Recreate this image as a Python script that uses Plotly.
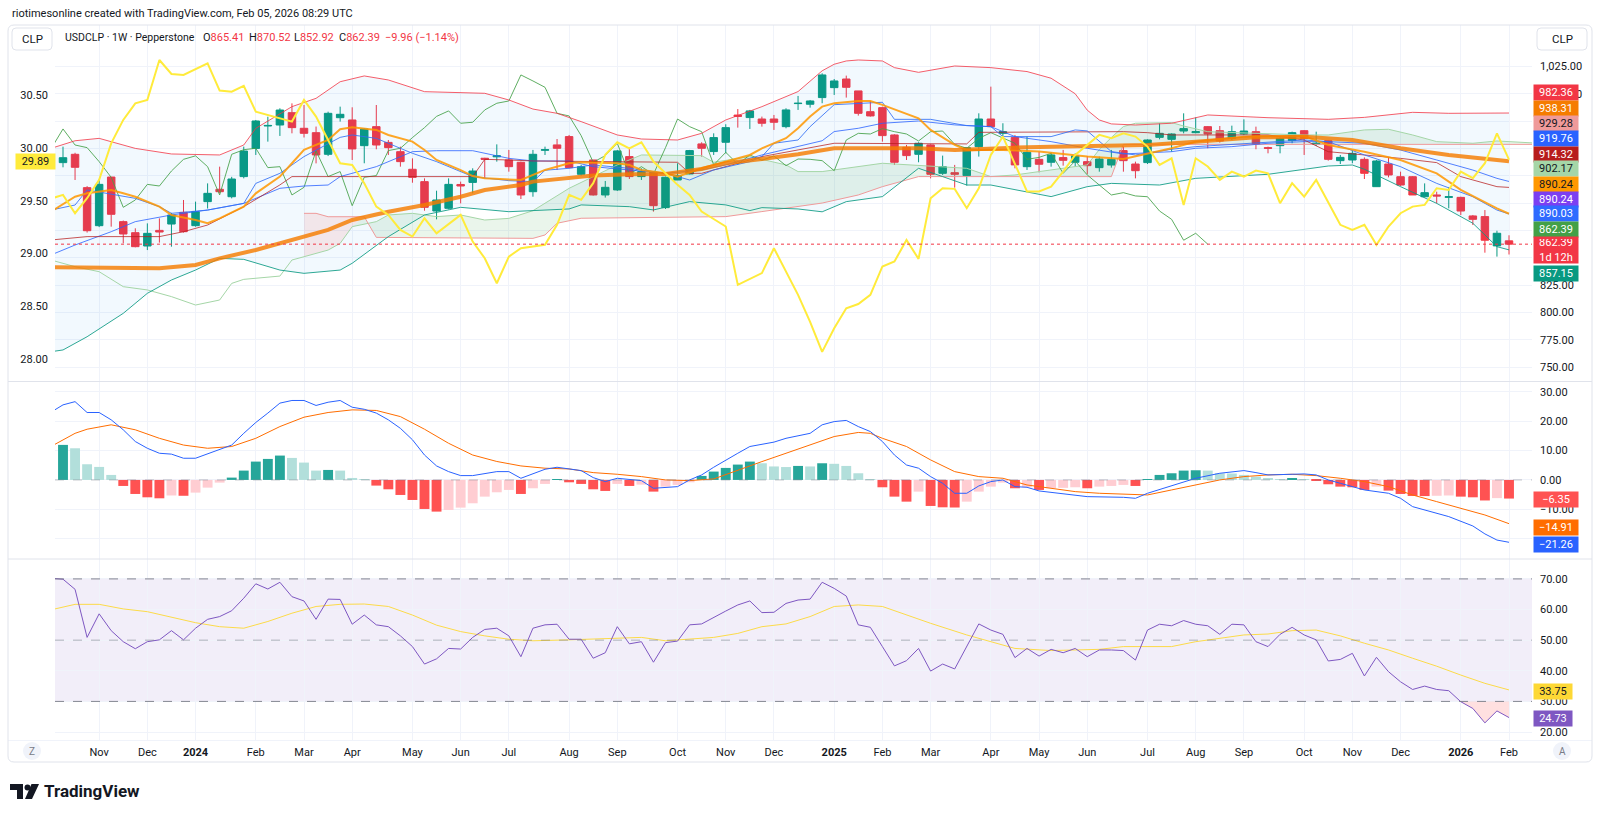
import numpy as np
import pandas as pd
import plotly.graph_objects as go

# ---------------- DATA (weekly bars, week 0 = 2023-10-16) ----------------
START = pd.Timestamp("2023-10-16")

OPEN = [937.0, 944.6, 914.1, 879.3, 923.8, 883.0, 872.9, 860.7, 875.0, 880.8,
        891.5, 879.3, 901.3, 912.6, 905.8, 924.2, 950.0, 970.5, 971.4, 982.7,
        968.4, 964.4, 944.6, 978.1, 976.0, 952.5, 969.9, 955.5, 947.0, 930.9,
        919.6, 892.7, 895.2, 917.0, 918.9, 941.0, 942.3, 939.4, 937.3, 910.4,
        948.3, 953.2, 960.8, 926.3, 939.4, 907.4, 912.0, 942.5, 924.2, 928.1,
        895.8, 921.1, 926.6, 954.1, 947.1, 955.6, 980.5, 978.2, 976.9, 976.9,
        969.9, 991.0, 990.4, 996.5, 1005.6, 1013.5, 1002.6, 983.6, 987.3, 962.3,
        951.0, 944.6, 953.2, 927.2, 927.8, 925.1, 951.6, 976.9, 963.8, 959.9,
        933.3, 940.0, 937.3, 941.6, 937.3, 937.9, 932.4, 934.8, 948.0, 935.7,
        937.0, 960.1, 958.3, 965.9, 964.4, 969.9, 966.2, 959.2, 963.2, 965.3,
        950.7, 952.5, 957.1, 966.2, 953.7, 957.1, 938.8, 939.4, 940.0, 915.0,
        935.7, 924.1, 924.1, 905.8, 907.4, 905.2, 905.2, 888.2, 887.6, 860.8,
        865.41]
HIGH = [951.6, 946.0, 915.5, 921.7, 924.0, 884.0, 876.9, 881.4, 886.0, 891.0,
        902.8, 901.3, 918.0, 933.3, 924.0, 951.6, 976.0, 979.0, 986.7, 991.2,
        989.7, 970.0, 983.6, 988.2, 987.6, 968.4, 989.7, 957.7, 951.6, 940.9,
        922.6, 911.3, 922.6, 919.6, 931.8, 941.4, 953.7, 948.6, 937.9, 948.6,
        951.6, 958.6, 962.3, 934.9, 939.4, 920.2, 948.6, 950.7, 931.8, 928.8,
        924.2, 936.4, 948.6, 955.6, 963.8, 972.1, 986.0, 985.2, 979.1, 980.6,
        986.7, 998.0, 994.3, 1018.7, 1013.5, 1016.6, 1002.6, 993.4, 988.2, 962.9,
        953.2, 955.6, 953.8, 943.4, 934.9, 950.7, 982.1, 1006.5, 973.0, 962.3,
        960.8, 947.0, 946.4, 948.6, 945.5, 943.1, 942.5, 948.6, 951.6, 937.9,
        958.3, 972.9, 963.8, 982.1, 978.4, 970.5, 970.5, 970.8, 976.6, 969.9,
        951.6, 960.1, 965.3, 966.8, 965.3, 957.7, 944.0, 948.0, 941.8, 939.4,
        941.8, 928.7, 924.7, 918.0, 910.4, 914.4, 905.8, 889.1, 893.6, 874.7,
        870.52]
LOW = [932.7, 921.1, 873.0, 878.0, 878.4, 863.2, 859.5, 857.0, 863.8, 860.1,
       873.0, 878.4, 895.0, 908.9, 904.3, 922.6, 944.0, 956.2, 961.4, 963.8,
       960.0, 936.3, 943.0, 974.5, 939.4, 936.4, 949.2, 944.0, 933.3, 918.6,
       893.0, 885.1, 894.3, 899.7, 908.9, 922.6, 937.9, 928.7, 903.7, 905.8,
       944.0, 930.3, 931.8, 925.1, 906.8, 905.0, 911.1, 922.0, 921.1, 892.2,
       894.6, 921.1, 926.3, 942.5, 944.0, 945.5, 969.0, 967.8, 969.9, 966.9,
       968.4, 985.2, 987.3, 991.3, 998.9, 996.5, 980.0, 979.1, 956.2, 934.9,
       939.4, 937.3, 922.6, 925.7, 914.1, 916.0, 942.5, 969.9, 960.8, 931.8,
       930.3, 928.1, 933.3, 934.2, 933.3, 926.6, 928.7, 932.4, 928.7, 922.6,
       935.7, 958.3, 947.0, 963.8, 963.8, 950.1, 955.3, 957.7, 962.3, 949.2,
       945.5, 945.5, 954.7, 944.0, 952.2, 938.8, 935.7, 936.4, 922.0, 915.0,
       923.5, 915.6, 907.4, 905.2, 899.7, 895.2, 889.0, 879.9, 854.6, 851.0,
       852.92]
CLOSE = [941.5, 932.7, 874.7, 917.1, 889.7, 871.7, 860.1, 872.3, 873.5, 889.1,
         873.8, 892.1, 908.9, 910.4, 922.0, 947.6, 975.1, 971.0, 985.1, 969.0,
         963.8, 944.0, 982.1, 981.2, 949.5, 967.8, 953.1, 950.7, 937.9, 923.5,
         896.1, 902.8, 917.1, 915.6, 929.3, 940.0, 943.2, 933.3, 907.4, 944.6,
         948.8, 950.1, 932.4, 933.3, 907.4, 914.4, 947.7, 924.2, 928.8, 897.6,
         923.6, 925.1, 948.0, 950.1, 959.9, 969.0, 979.3, 984.3, 973.0, 973.9,
         985.2, 991.3, 993.4, 1017.2, 1011.7, 1005.9, 982.1, 979.7, 961.7, 937.3,
         943.4, 954.7, 926.3, 933.3, 926.3, 950.7, 976.9, 969.9, 965.3, 934.9,
         946.4, 935.5, 944.0, 939.1, 943.1, 934.2, 940.3, 940.0, 938.8, 929.6,
         957.7, 963.8, 963.2, 968.1, 965.3, 963.2, 956.8, 965.3, 965.9, 953.7,
         950.1, 959.2, 964.4, 959.2, 954.7, 940.0, 941.8, 945.5, 927.2, 938.5,
         925.7, 916.5, 907.4, 909.5, 906.5, 905.8, 892.7, 885.1, 866.0, 872.35,
         862.39]

# Bollinger bands (week index, value)
BBU_I = [-1, 1, 3, 4, 6, 9, 13, 15, 16, 19, 21, 23, 25, 27, 30, 35, 37, 39, 41, 43, 46, 48, 51, 53, 55, 58, 61,
         63, 64, 65, 66, 68, 69, 71, 74, 77, 80, 82, 84, 85, 86, 87, 89, 92, 95, 100, 105, 108, 112, 115, 120]
BBU_V = [950.0, 957.0, 959.2, 956.2, 950.0, 944.9, 944.0, 953.1, 968.4, 988.2, 995.8, 1011.0, 1016.3, 1012.6,
         1001.9, 1000.4, 994.3, 986.0, 982.1, 974.5, 962.3, 958.6, 957.7, 963.8, 976.0, 988.2, 1002.0,
         1021.0, 1027.0, 1030.0, 1030.9, 1030.0, 1023.9, 1019.6, 1025.4, 1023.9, 1020.3, 1014.2, 1000.0, 985.0,
         976.0, 972.4, 971.4, 973.0, 980.6, 978.1, 976.6, 978.4, 983.0, 982.1, 982.36]
BBL_I = [-1, 0, 2, 5, 7, 9, 11, 13, 15, 18, 20, 23, 24, 27, 30, 33, 37, 39, 42, 43, 47, 49, 52, 55, 57, 58, 61,
         63, 65, 68, 71, 73, 75, 77, 79, 82, 85, 87, 91, 94, 100, 105, 107, 108, 111, 114, 117, 119, 120]
BBL_V = [764.0, 765.6, 777.7, 799.1, 817.4, 829.6, 838.7, 849.4, 848.5, 838.7, 835.7, 838.7, 844.9, 869.3,
         889.1, 896.1, 892.1, 893.2, 894.6, 898.3, 896.7, 893.7, 901.3, 898.3, 893.1, 895.8, 894.6,
         892.0, 901.3, 905.9, 931.8, 924.2, 916.5, 916.5, 912.0, 905.9, 915.0, 918.0, 916.5, 922.6, 926.3,
         933.9, 934.8, 930.9, 915.0, 899.7, 881.5, 860.1, 857.15]
BASIS_I = [-1, 1, 4, 6, 9, 12, 15, 18, 20, 22, 23, 26, 29, 31, 34, 37, 39, 42, 44, 47, 50, 53, 55, 58, 61, 63,
           64, 66, 68, 71, 74, 77, 79, 82, 85, 86, 88, 92, 94, 97, 100, 103, 105, 108, 111, 114, 117, 119, 120]
BASIS_V = [852.5, 861.6, 873.8, 883.0, 889.1, 893.6, 899.7, 913.5, 915.6, 916.5, 924.2, 933.3, 947.0, 947.9,
           947.9, 940.9, 938.5, 938.5, 933.3, 930.3, 927.2, 930.3, 934.9, 944.0, 951.6, 957.0, 965.4, 968.4,
           973.0, 975.1, 971.5, 969.9, 960.8, 956.2, 950.1, 948.5, 944.9, 947.0, 950.1, 951.6, 954.7, 956.2,
           956.2, 954.7, 948.5, 939.4, 930.2, 922.6, 919.76]

# Moving averages
MA_SLOW_I = [-1, 4, 8, 11, 13, 16, 19, 22, 24, 27, 30, 33, 35, 38, 39, 42, 44, 47, 50, 53, 55, 58, 61, 64,
             66, 68, 71, 74, 77, 79, 82, 85, 88, 90, 94, 99, 103, 107, 111, 115, 119, 120]
MA_SLOW_V = [841.2, 841.2, 840.3, 843.3, 849.4, 857.1, 866.2, 875.4, 884.5, 892.1, 898.2, 905.8, 911.9,
             916.5, 919.6, 922.6, 925.1, 926.3, 926.6, 931.2, 936.4, 940.3, 944.6, 950.1, 950.1, 950.7,
             950.1, 948.6, 950.1, 950.7, 951.6, 952.5, 953.2, 953.1, 956.2, 960.1, 960.7, 957.7, 950.1,
             944.0, 939.4, 938.31]
MA_FAST_I = [-1, 1, 2, 4, 5, 6, 8, 9, 11, 12, 13, 15, 16, 18, 19, 20, 22, 23, 24, 26, 27, 29, 30, 31, 33, 34,
             35, 38, 40, 42, 43, 46, 47, 48, 50, 51, 53, 55, 57, 58, 60, 61, 62, 63, 64, 66, 67, 68, 70, 71,
             72, 74, 75, 78, 81, 85, 88, 90, 92, 94, 98, 103, 105, 108, 111, 114, 116, 119, 120]
MA_FAST_V = [892.1, 905.8, 908.9, 912.0, 908.9, 905.8, 896.7, 889.1, 884.5, 881.5, 886.0, 896.7, 908.9,
             924.2, 936.4, 948.6, 957.7, 967.5, 969.3, 966.9, 962.3, 956.2, 948.6, 939.4, 930.2, 924.7,
             922.6, 921.1, 930.3, 936.4, 937.3, 936.4, 934.9, 930.3, 927.2, 924.2, 931.8, 937.9, 944.0,
             950.1, 959.3, 968.4, 979.1, 988.2, 991.3, 993.4, 993.4, 989.8, 982.1, 977.6, 966.9, 953.2,
             948.6, 948.6, 947.1, 942.5, 940.3, 945.0, 950.1, 956.2, 960.7, 961.4, 953.1, 947.0, 939.4,
             927.2, 912.0, 895.2, 890.24]

# Ichimoku
TENKAN_I = [-1, 1, 2, 5, 6, 8, 9, 12, 15, 16, 18, 20, 23, 24, 26, 29, 31, 34, 37, 39, 40, 42, 44, 47, 50, 52,
            54, 57, 58, 59, 61, 62, 64, 68, 69, 72, 75, 77, 78, 82, 84, 85, 87, 89, 92, 94, 99, 103, 105,
            108, 111, 114, 117, 119, 120]
TENKAN_V = [893.6, 898.2, 912.0, 905.8, 904.3, 896.7, 890.6, 893.6, 899.7, 918.0, 927.2, 942.5, 960.1,
            962.3, 959.2, 945.5, 937.9, 924.2, 920.5, 919.6, 930.0, 931.8, 934.9, 931.8, 927.2, 921.1,
            930.3, 937.9, 942.5, 954.7, 957.7, 969.9, 990.0, 992.2, 976.6, 976.6, 970.8, 969.9, 960.8,
            960.8, 966.9, 966.0, 947.1, 944.0, 949.2, 951.6, 954.7, 957.7, 956.2, 944.0, 933.3, 918.0,
            905.8, 893.6, 890.03]
KIJUN_I = [-1, 2, 8, 10, 12, 15, 18, 19, 34, 35, 37, 39, 51, 52, 53, 55, 58, 61, 64, 75, 76, 88, 90, 92, 100,
           103, 105, 108, 111, 114, 116, 119, 120]
KIJUN_V = [866.2, 869.3, 869.3, 873.8, 879.9, 896.7, 916.6, 924.2, 924.2, 940.0, 939.4, 938.5, 937.3, 927.2,
           927.2, 933.3, 942.5, 948.6, 954.7, 954.1, 964.7, 965.3, 964.4, 962.3, 962.3, 957.7, 947.0, 944.0,
           940.9, 937.0, 924.2, 915.0, 914.32]
SPAN_A_I = [-1, 1, 3, 5, 7, 9, 11, 13, 14, 15, 18, 19, 20, 22, 23, 24, 26, 27, 29, 31, 33, 35, 37, 39, 42,
            46, 48, 53, 54, 57, 60, 61, 63, 68, 75, 77, 79, 82, 85, 86, 87, 88, 89, 92, 93, 95, 99, 103,
            105, 108, 110, 112, 114, 117, 119, 122]
SPAN_A_V = [847.9, 841.8, 837.2, 823.5, 820.5, 814.4, 806.7, 811.3, 826.5, 830.2, 833.2, 847.9, 850.9,
            857.0, 863.1, 878.4, 883.0, 889.1, 890.6, 887.6, 889.1, 884.5, 886.0, 893.0, 913.5, 934.9,
            944.0, 943.4, 937.3, 942.5, 934.9, 928.8, 928.8, 936.4, 931.8, 924.2, 925.7, 930.3, 934.9,
            949.0, 960.0, 970.0, 973.0, 973.6, 970.5, 965.3, 963.8, 962.3, 962.3, 966.9, 967.5, 962.3,
            956.2, 954.7, 956.8, 955.0]
SPAN_B_I = [20, 21, 22, 25, 26, 39, 40, 41, 43, 55, 58, 61, 63, 66, 68, 71, 87, 88, 122]
SPAN_B_V = [890.6, 890.6, 887.5, 887.5, 868.6, 867.7, 870.8, 881.5, 886.1, 887.6, 892.2, 896.7, 900.0,
            907.4, 915.0, 924.2, 924.2, 953.7, 953.7]
CHIKOU_SHIFT = 25

# Overlay symbol on the left scale (yellow)
OVL_I = [-1, 0, 1, 2, 3, 4, 5, 6, 7, 8, 9, 10, 12, 13, 14, 15, 16, 17, 19, 20, 21, 22, 23, 24, 25, 26, 27,
         28, 29, 30, 31, 33, 34, 35, 36, 37, 38, 40, 41, 42, 43, 44, 45, 46, 47, 48, 49, 51, 52, 53, 55,
         56, 58, 59, 61, 62, 63, 64, 65, 66, 67, 68, 69, 70, 71, 72, 73, 74, 75, 76, 77, 78, 79, 80, 81,
         82, 83, 84, 86, 87, 88, 89, 90, 91, 92, 93, 94, 95, 96, 97, 98, 99, 100, 101, 102, 103, 104,
         106, 107, 108, 109, 110, 111, 112, 113, 114, 115, 116, 117, 118, 119, 120]
OVL_V = [29.52, 29.555, 29.381, 29.523, 29.697, 30.044, 30.266, 30.423, 30.455, 30.834, 30.702, 30.692,
         30.803, 30.544, 30.534, 30.588, 30.344, 30.313, 30.250, 30.455, 30.297, 30.076, 29.855, 29.839,
         29.665, 29.444, 29.365, 29.223, 29.16, 29.333, 29.191, 29.365, 29.112, 28.954, 28.717, 28.97,
         29.049, 29.081, 29.271, 29.555, 29.508, 29.666, 29.934, 30.054, 29.997, 30.054, 29.871, 29.65,
         29.555, 29.397, 29.255, 28.702, 28.813, 29.049, 28.607, 28.35, 28.066, 28.29, 28.48, 28.52,
         28.607, 28.876, 28.923, 29.128, 28.948, 29.523, 29.618, 29.612, 29.429, 29.618, 29.934, 30.108,
         29.839, 29.587, 29.587, 29.634, 29.776, 29.934, 30.124, 30.092, 30.139, 30.108, 30.013, 29.839,
         29.902, 29.46, 29.902, 29.824, 29.697, 29.776, 29.729, 29.786, 29.76, 29.476, 29.666, 29.539,
         29.697, 29.271, 29.223, 29.271, 29.081, 29.255, 29.381, 29.444, 29.46, 29.618, 29.602, 29.776,
         29.713, 29.855, 30.139, 29.89]

# MACD
HIST = [11.95, 10.8, 5.35, 4.44, 1.71, -2.05, -4.78, -5.92, -6.26, -5.3,
        -5.4, -4.32, -2.62, -0.91, 0.8, 3.19, 6.26, 7.17, 8.31, 7.51,
        5.92, 3.19, 3.41, 3.19, 0.68, 0.23, -1.93, -3.19, -5.12, -6.83,
        -9.9, -10.8, -10.24, -9.44, -7.96, -5.69, -4.21, -3.41, -4.78, -2.84,
        -1.36, 0.3, -0.8, -1.36, -3.19, -3.75, -1.36, -2.05, -1.6, -3.98,
        -2.28, -1.7, -0.8, 1.37, 2.85, 4.1, 5.24, 6.26, 5.69, 4.6,
        4.4, 4.78, 4.6, 5.69, 5.5, 4.78, 2.28, 0.23, -2.5, -5.69,
        -7.4, -3.98, -8.87, -9.33, -9.4, -7.4, -3.98, -2.28, -0.9, -2.84,
        -2.5, -3.41, -2.84, -2.7, -2.5, -2.84, -2.28, -2.05, -1.7, -2.05,
        0.3, 1.71, 2.28, 3.19, 3.3, 3.19, 2.28, 2.2, 1.71, 1.14,
        0.45, 0.23, 0.45, 0.2, -0.2, -1.48, -2.28, -2.5, -3.41, -2.28,
        -3.64, -4.78, -5.46, -5.5, -5.4, -5.3, -5.69, -5.92, -7.0, -6.2,
        -6.35]
MACD_I = [-1, 0, 1, 2, 3, 4, 5, 6, 7, 8, 9, 10, 11, 12, 13, 14, 15, 16, 17, 18, 19, 20, 21, 22, 23, 24, 25,
          26, 27, 28, 29, 30, 31, 32, 33, 34, 36, 37, 38, 40, 41, 43, 44, 45, 46, 48, 49, 51, 52, 53, 54,
          55, 56, 57, 59, 60, 62, 63, 64, 65, 66, 67, 68, 69, 70, 71, 72, 73, 74, 75, 76, 77, 78, 79, 80,
          81, 83, 85, 88, 89, 90, 92, 94, 96, 98, 99, 100, 102, 103, 104, 105, 106, 108, 110, 111, 112,
          114, 115, 117, 118, 119, 120]
MACD_V = [23.1, 25.6, 26.7, 23.0, 23.0, 20.5, 17.1, 13.1, 10.8, 9.1, 8.8, 7.4, 7.4, 8.9, 10.2, 11.9, 15.9,
          19.6, 22.8, 26.2, 27.1, 27.1, 25.4, 26.5, 27.1, 24.8, 24.1, 22.8, 20.5, 17.6, 13.7, 8.5, 4.78,
          2.84, 1.48, 1.48, 2.84, 2.84, 0.57, 3.64, 4.33, 3.19, 0.8, -0.57, 0.57, -0.23, -2.84, -2.28, 0.0,
          1.71, 4.33, 6.83, 9.1, 11.4, 12.9, 14.2, 15.9, 18.8, 19.9, 20.3, 18.2, 16.5, 13.1, 8.5, 5.1, 4.0,
          1.14, -1.14, -4.55, -4.55, -2.05, -0.57, 0.0, -2.28, -2.5, -3.75, -4.78, -5.69, -5.92, -6.26,
          -4.55, -2.05, 0.57, 2.28, 3.19, 2.5, 1.71, 1.93, 2.05, 1.71, 0.0, -1.14, -3.41, -4.55, -6.26,
          -9.1, -11.4, -12.5, -15.7, -18.4, -20.5, -21.26]
SIG_I = [-1, 1, 2, 4, 6, 8, 10, 12, 14, 16, 18, 20, 22, 24, 26, 28, 30, 32, 34, 36, 38, 40, 42, 44, 46, 48,
         50, 52, 54, 56, 58, 60, 62, 64, 66, 67, 68, 70, 72, 74, 76, 78, 80, 82, 84, 86, 90, 92, 94, 96,
         98, 100, 102, 104, 106, 108, 110, 112, 114, 116, 118, 120]
SIG_V = [11.4, 15.9, 17.3, 18.8, 17.1, 14.2, 11.9, 10.8, 11.4, 14.2, 18.2, 21.4, 23.0, 23.9, 23.7, 21.6,
         17.3, 12.5, 8.5, 6.3, 4.78, 4.0, 3.75, 2.5, 1.93, 1.14, 0.0, -0.23, 0.34, 3.4, 6.26, 9.1, 11.9,
         14.8, 16.2, 15.9, 14.2, 11.4, 6.83, 2.84, 1.14, 0.57, -1.71, -2.84, -3.98, -4.55, -5.12, -3.41,
         -1.71, 0.0, 1.14, 1.71, 1.93, 1.48, 0.57, -0.57, -2.28, -5.12, -7.4, -9.67, -11.95, -14.91]

# RSI
RSI_I = list(range(-1, 121))
RSI_V = [70.2, 69.9, 66.6, 50.9, 58.6, 53.1, 49.5, 47.2, 49.5, 50.1, 53.1, 50.1, 53.9, 56.8, 57.7, 59.6,
         63.7, 68.4, 66.7, 68.9, 64.2, 62.8, 56.8, 63.4, 63.3, 55.2, 58.2, 55.0, 54.4, 51.4, 47.9, 42.2,
         43.9, 47.3, 47.1, 50.9, 53.5, 53.9, 51.4, 44.6, 53.9, 55.0, 55.2, 50.3, 50.3, 44.1, 45.9, 54.4,
         48.8, 49.5, 42.8, 49.2, 49.7, 55.0, 55.3, 57.5, 59.5, 61.5, 62.8, 59.0, 59.1, 62.0, 63.1, 63.4,
         68.9, 66.9, 64.4, 55.0, 54.2, 47.9, 41.6, 43.3, 47.3, 39.9, 42.2, 40.6, 47.9, 55.3, 53.3, 51.9,
         44.3, 47.3, 44.8, 47.0, 45.9, 47.3, 44.6, 46.8, 46.8, 46.6, 43.5, 53.3, 55.2, 54.7, 56.4, 55.2,
         54.7, 51.9, 55.2, 55.0, 49.5, 47.9, 51.9, 54.2, 51.7, 50.1, 43.2, 43.7, 45.7, 38.3, 44.4, 39.7,
         36.4, 33.9, 35.0, 33.9, 33.5, 29.9, 27.7, 23.0, 26.9, 24.73]
RSIMA_I = [-1, 1, 3, 5, 7, 9, 11, 13, 15, 17, 19, 21, 23, 25, 27, 29, 31, 33, 35, 37, 39, 42, 44, 46, 48, 50,
           52, 54, 56, 58, 60, 62, 64, 66, 68, 70, 72, 75, 77, 79, 82, 86, 88, 92, 94, 96, 98, 100, 102,
           104, 106, 108, 110, 112, 114, 116, 118, 120]
RSIMA_V = [59.9, 61.7, 61.7, 60.2, 59.3, 57.5, 55.7, 54.4, 53.9, 56.1, 58.8, 61.0, 61.7, 61.8, 61.0, 58.2,
           54.9, 52.8, 51.4, 50.3, 49.8, 50.1, 50.3, 50.6, 50.9, 49.8, 50.3, 50.9, 52.2, 54.4, 55.3, 57.7,
           61.0, 61.5, 61.0, 58.2, 55.5, 51.7, 49.5, 47.3, 46.6, 47.0, 47.9, 47.9, 49.5, 50.6, 51.7, 52.0,
           53.1, 53.3, 51.4, 49.0, 46.8, 44.1, 41.5, 38.6, 35.9, 33.75]

# Axis tick labels
TICK_DATES = ["2023-11-06", "2023-12-04", "2024-01-01", "2024-02-05", "2024-03-04", "2024-04-01",
              "2024-05-06", "2024-06-03", "2024-07-01", "2024-08-05", "2024-09-02", "2024-10-07",
              "2024-11-04", "2024-12-02", "2025-01-06", "2025-02-03", "2025-03-03", "2025-04-07",
              "2025-05-05", "2025-06-02", "2025-07-07", "2025-08-04", "2025-09-01", "2025-10-06",
              "2025-11-03", "2025-12-01", "2026-01-05", "2026-02-02"]
TICK_TEXT = ["Nov", "Dec", "<b>2024</b>", "Feb", "Mar", "Apr", "May", "Jun", "Jul", "Aug", "Sep", "Oct",
             "Nov", "Dec", "<b>2025</b>", "Feb", "Mar", "Apr", "May", "Jun", "Jul", "Aug", "Sep", "Oct",
             "Nov", "Dec", "<b>2026</b>", "Feb"]
PRICE_TICKS = [750, 775, 800, 825, 850, 875, 900, 925, 950, 975, 1000, 1025]
PRICE_TICK_TEXT = ["750.00", "775.00", "800.00", "825.00", "", "", "", "", "", "", "1,000.00", "1,025.00"]
OVL_TICKS = [28.0, 28.5, 29.0, 29.5, 30.0, 30.5]
MACD_TICKS = [-20, -10, 0, 10, 20, 30]
MACD_TICK_TEXT = ["", "\u221210.00", "0.00", "10.00", "20.00", "30.00"]
RSI_TICKS = [20, 30, 40, 50, 60, 70]

# Scale labels (text, background, text colour)
PRICE_LABELS = [("982.36", "#F23645", "white"), ("938.31", "#F57C00", "white"),
                ("929.28", "#EF9A9A", "#131722"), ("919.76", "#2962FF", "white"),
                ("914.32", "#B71C1C", "white"), ("902.17", "#A5D6A7", "#131722"),
                ("890.24", "#FF9800", "#131722"), ("890.24", "#7B3FF2", "white"),
                ("890.03", "#2F6BFF", "white"), ("862.39", "#43A047", "white"),
                ("862.39<br>1d 12h", "#F23645", "white"), ("857.15", "#089981", "white")]
MACD_LABELS = [("\u22126.35", "#FF5252", "white"), ("\u221214.91", "#FF6D00", "white"),
               ("\u221221.26", "#2962FF", "white")]
RSI_LABELS = [("33.75", "#FDD835", "#131722"), ("24.73", "#7E57C2", "white")]
OVL_LABEL = "29.89"

# ---------------- FIGURE ----------------
W, H = 1600, 817


def fx(p):
    return p / W


def fy(p):
    return 1 - p / H


def wd(idx):
    return [START + pd.Timedelta(days=7 * float(k)) for k in idx]


X0, X1 = 55, 1532
XD = [fx(X0), fx(X1)]
FIRST_BAR_PX, PX_WEEK = 63, 12.05
XR = [START + pd.Timedelta(days=7 * (X0 - FIRST_BAR_PX) / PX_WEEK),
      START + pd.Timedelta(days=7 * (X1 - FIRST_BAR_PX) / PX_WEEK)]
BAR_DATES = wd(range(len(CLOSE)))

GRID = "#F0F3FA"
TXT = "#131722"

fig = go.Figure()


def line(xi, yv, color, width=1, yaxis="y", xaxis="x", **kw):
    fig.add_trace(go.Scatter(x=wd(xi), y=yv, mode="lines", line=dict(color=color, width=width),
                             xaxis=xaxis, yaxis=yaxis, hoverinfo="skip", **kw))


# Bollinger fill
line(BBL_I, BBL_V, "rgba(0,0,0,0)", 0)
line(BBU_I, BBU_V, "rgba(0,0,0,0)", 0, fill="tonexty", fillcolor="rgba(33,150,243,0.06)")

# Ichimoku cloud fills
ra = [k for k in SPAN_A_I if 20 <= k <= 25]
rb = [k for k in SPAN_B_I if 20 <= k <= 25]
line(rb, [SPAN_B_V[SPAN_B_I.index(k)] for k in rb], "rgba(0,0,0,0)", 0)
line(ra + [25], [SPAN_A_V[SPAN_A_I.index(k)] for k in ra] + [SPAN_B_V[SPAN_B_I.index(25)]],
     "rgba(0,0,0,0)", 0, fill="tonexty", fillcolor="rgba(244,67,54,0.10)")
ga = [k for k in SPAN_A_I if k >= 24]
gb = [k for k in SPAN_B_I if k >= 25]
line(gb, [SPAN_B_V[SPAN_B_I.index(k)] for k in gb], "rgba(0,0,0,0)", 0)
line(ga, [SPAN_A_V[SPAN_A_I.index(k)] for k in ga], "rgba(0,0,0,0)", 0,
     fill="tonexty", fillcolor="rgba(67,160,71,0.11)")

# Candles
fig.add_trace(go.Candlestick(
    x=BAR_DATES, open=OPEN, high=HIGH, low=LOW, close=CLOSE,
    increasing=dict(line=dict(color="#089981", width=1), fillcolor="#089981"),
    decreasing=dict(line=dict(color="#F23645", width=1), fillcolor="#F23645"),
    whiskerwidth=0, xaxis="x", yaxis="y", hoverinfo="skip"))

# Indicator lines
line(SPAN_A_I, SPAN_A_V, "#A5D6A7", 1)
line(SPAN_B_I, SPAN_B_V, "#EF9A9A", 1)
ch_idx = list(range(CHIKOU_SHIFT - 1, len(CLOSE)))
line([k - CHIKOU_SHIFT for k in ch_idx], [CLOSE[k] for k in ch_idx], "rgba(67,160,71,0.85)", 1)
line(BBU_I, BBU_V, "rgba(242,54,69,0.8)", 1)
line(BBL_I, BBL_V, "rgba(8,153,129,0.85)", 1)
line(BASIS_I, BASIS_V, "rgba(41,98,255,0.8)", 1)
line(KIJUN_I, KIJUN_V, "rgba(183,28,28,0.75)", 1)
line(TENKAN_I, TENKAN_V, "rgba(49,110,245,0.85)", 1)
line(MA_FAST_I, MA_FAST_V, "rgba(255,152,0,0.85)", 2)
line(MA_SLOW_I, MA_SLOW_V, "rgba(245,124,0,0.82)", 4)
line(OVL_I, OVL_V, "#FFEB3B", 2, yaxis="y4")

# MACD pane
hcol = []
for k, v in enumerate(HIST):
    prev = HIST[k - 1] if k > 0 else v
    if v >= 0:
        hcol.append("#26A69A" if v >= prev else "#B2DFDB")
    else:
        hcol.append("#FF5252" if v <= prev else "#FFCDD2")
fig.add_trace(go.Bar(x=BAR_DATES, y=HIST, marker=dict(color=hcol, line=dict(width=0)),
                     width=0.82 * 7 * 86400000, xaxis="x2", yaxis="y2", hoverinfo="skip"))
line(SIG_I, SIG_V, "#FF6D00", 1, yaxis="y2", xaxis="x2")
line(MACD_I, MACD_V, "#2962FF", 1, yaxis="y2", xaxis="x2")

# RSI pane
line(RSIMA_I, RSIMA_V, "rgba(253,216,53,0.9)", 1, yaxis="y3", xaxis="x3")
low_idx = [k for k in RSI_I if k >= 116]
line(low_idx, [30] * len(low_idx), "rgba(0,0,0,0)", 0, yaxis="y3", xaxis="x3")
line(low_idx, [RSI_V[RSI_I.index(k)] for k in low_idx], "rgba(0,0,0,0)", 0, yaxis="y3", xaxis="x3",
     fill="tonexty", fillcolor="rgba(255,82,82,0.18)")
line(RSI_I, RSI_V, "#7E57C2", 1, yaxis="y3", xaxis="x3")

# ---------------- LAYOUT ----------------
xcommon = dict(type="date", range=XR, domain=XD, tickvals=TICK_DATES, ticktext=TICK_TEXT,
               showgrid=True, gridcolor=GRID, gridwidth=1, zeroline=False, showline=False, ticks="",
               fixedrange=True)
ycommon = dict(showgrid=True, gridcolor=GRID, zeroline=False, showline=False, ticks="", side="right",
               tickfont=dict(size=11, color=TXT), ticklabelstandoff=7, fixedrange=True)

fig.update_layout(
    width=W, height=H, margin=dict(l=0, r=0, t=0, b=0),
    paper_bgcolor="white", plot_bgcolor="rgba(0,0,0,0)", showlegend=False, hovermode=False,
    font=dict(family="Roboto, 'Noto Sans', sans-serif", size=11, color=TXT),
    boxgap=0.38, boxgroupgap=0,
    xaxis=dict(xcommon, anchor="y", showticklabels=False, rangeslider=dict(visible=False)),
    xaxis2=dict(xcommon, anchor="y2", showticklabels=False, matches="x"),
    xaxis3=dict(xcommon, anchor="y3", showticklabels=True, matches="x",
                tickfont=dict(size=11, color=TXT), ticklabelstandoff=4),
    yaxis=dict(ycommon, domain=[fy(381), fy(25)], anchor="x", range=[737.2, 1062.9],
               tickvals=PRICE_TICKS, ticktext=PRICE_TICK_TEXT),
    yaxis4=dict(ycommon, overlaying="y", side="left", anchor="x", range=[27.79, 31.166],
                tickvals=OVL_TICKS, tickformat=".2f", showgrid=False, ticklabelstandoff=6),
    yaxis2=dict(ycommon, domain=[fy(559), fy(382)], anchor="x2", range=[-26.96, 33.4],
                tickvals=MACD_TICKS, ticktext=MACD_TICK_TEXT),
    yaxis3=dict(ycommon, domain=[fy(740), fy(559)], anchor="x3", range=[17.4, 76.5],
                tickvals=RSI_TICKS, tickformat=".2f"),
)

shapes = []
shapes.append(dict(type="rect", xref="paper", yref="y3", x0=XD[0], x1=XD[1], y0=30, y1=70,
                   fillcolor="rgba(126,87,194,0.10)", line=dict(width=0), layer="below"))
for lv, col in [(70, "rgba(120,123,134,0.9)"), (50, "rgba(120,123,134,0.55)"), (30, "rgba(120,123,134,0.9)")]:
    shapes.append(dict(type="line", xref="paper", yref="y3", x0=XD[0], x1=XD[1], y0=lv, y1=lv,
                       line=dict(color=col, width=1, dash="dash")))
shapes.append(dict(type="line", xref="paper", yref="y2", x0=XD[0], x1=XD[1], y0=0, y1=0,
                   line=dict(color="rgba(120,123,134,0.45)", width=1, dash="dash")))
shapes.append(dict(type="line", xref="paper", yref="y", x0=XD[0], x1=XD[1], y0=CLOSE[-1], y1=CLOSE[-1],
                   line=dict(color="#F23645", width=1, dash="dot")))
for yy in (381.5, 559):
    shapes.append(dict(type="line", xref="paper", yref="paper", x0=fx(8), x1=fx(1592), y0=fy(yy), y1=fy(yy),
                       line=dict(color="#E0E3EB", width=1)))
shapes.append(dict(type="line", xref="paper", yref="paper", x0=fx(8), x1=fx(1592), y0=fy(740.5), y1=fy(740.5),
                   line=dict(color="#F0F3FA", width=1)))


def rrect(x0, y0, x1, y1, r, fill, lc, lw=1):
    p = (f"M{fx(x0 + r)},{fy(y0)} L{fx(x1 - r)},{fy(y0)} Q{fx(x1)},{fy(y0)} {fx(x1)},{fy(y0 + r)} "
         f"L{fx(x1)},{fy(y1 - r)} Q{fx(x1)},{fy(y1)} {fx(x1 - r)},{fy(y1)} "
         f"L{fx(x0 + r)},{fy(y1)} Q{fx(x0)},{fy(y1)} {fx(x0)},{fy(y1 - r)} "
         f"L{fx(x0)},{fy(y0 + r)} Q{fx(x0)},{fy(y0)} {fx(x0 + r)},{fy(y0)} Z")
    return dict(type="path", xref="paper", yref="paper", path=p, fillcolor=fill,
                line=dict(color=lc, width=lw))


shapes.append(rrect(8, 25, 1592, 762, 6, "rgba(0,0,0,0)", "#E0E3EB"))
shapes.append(rrect(12, 28, 52, 50, 4, "white", "#E0E3EB"))
shapes.append(rrect(1537, 28, 1587, 50, 4, "white", "#E0E3EB"))
for cx in (32, 1562):
    shapes.append(dict(type="circle", xref="paper", yref="paper", x0=fx(cx - 9), x1=fx(cx + 9),
                       y0=fy(760), y1=fy(742), fillcolor="#F0F3FA", line=dict(width=0)))
shapes.append(dict(type="path", xref="paper", yref="paper",
                   path=f"M{fx(10)},{fy(784)} L{fx(23)},{fy(784)} L{fx(23)},{fy(799)} L{fx(17)},{fy(799)} "
                        f"L{fx(17)},{fy(790)} L{fx(10)},{fy(790)} Z",
                   fillcolor=TXT, line=dict(width=0)))
shapes.append(dict(type="circle", xref="paper", yref="paper", x0=fx(24.5), x1=fx(30.5), y0=fy(790.5),
                   y1=fy(784.5), fillcolor=TXT, line=dict(width=0)))
shapes.append(dict(type="path", xref="paper", yref="paper",
                   path=f"M{fx(31.5)},{fy(784)} L{fx(39)},{fy(784)} L{fx(32)},{fy(799)} L{fx(25)},{fy(799)} Z",
                   fillcolor=TXT, line=dict(width=0)))
fig.update_layout(shapes=shapes)

ann = []


def text(t, x, y, size=11, color=TXT, xanchor="left", **kw):
    ann.append(dict(text=t, x=fx(x), y=fy(y), xref="paper", yref="paper", xanchor=xanchor,
                    yanchor="middle", showarrow=False, font=dict(size=size, color=color), **kw))


text("riotimesonline created with TradingView.com, Feb 05, 2026 08:29 UTC", 10, 13, size=11)
text("CLP", 32, 39, size=11.5, xanchor="center")
text("CLP", 1562, 39, size=11.5, xanchor="center")
text("USDCLP \u00b7 1W \u00b7 Pepperstone", 63, 38, size=10.5)
RED = "#F23645"
for lab, val, xp in [("O", "865.41", 201), ("H", "870.52", 247), ("L", "852.92", 292), ("C", "862.39", 337)]:
    text(f"{lab}<span style='color:{RED}'>{val}</span>", xp, 38, size=11)
text("\u22129.96 (\u22121.14%)", 383, 38, size=11, color=RED)
text("Z", 32, 751, size=10, color="#787B86", xanchor="center")
text("A", 1562, 751, size=10, color="#787B86", xanchor="center")
text("<b>TradingView</b>", 42, 791, size=17, color=TXT)


def box(t, y, bg, fg, xc=1555.5, w=40, h=11):
    ann.append(dict(text=t, x=fx(xc), y=fy(y), xref="paper", yref="paper", xanchor="center",
                    yanchor="middle", showarrow=False, bgcolor=bg, borderpad=2, width=w, height=h,
                    font=dict(size=11, color=fg)))


PRICE_Y = [92.7, 108.3, 123.3, 138.3, 154, 168.3, 184, 199.3, 214, 229.3, 250.5, 273.3]
for (t, bg, fg), yy in zip(PRICE_LABELS, PRICE_Y):
    box(t, yy, bg, fg, h=(22 if "<br>" in t else 11))
for (t, bg, fg), yy in zip(MACD_LABELS, [499, 527, 544]):
    box(t, yy, bg, fg)
for (t, bg, fg), yy in zip(RSI_LABELS, [691, 718]):
    box(t, yy, bg, fg, w=34, xc=1553)
box(OVL_LABEL, 161.5, "#FFEB3B", TXT, xc=35.5, w=35)

fig.update_layout(annotations=ann)
fig.write_html("out.html")
